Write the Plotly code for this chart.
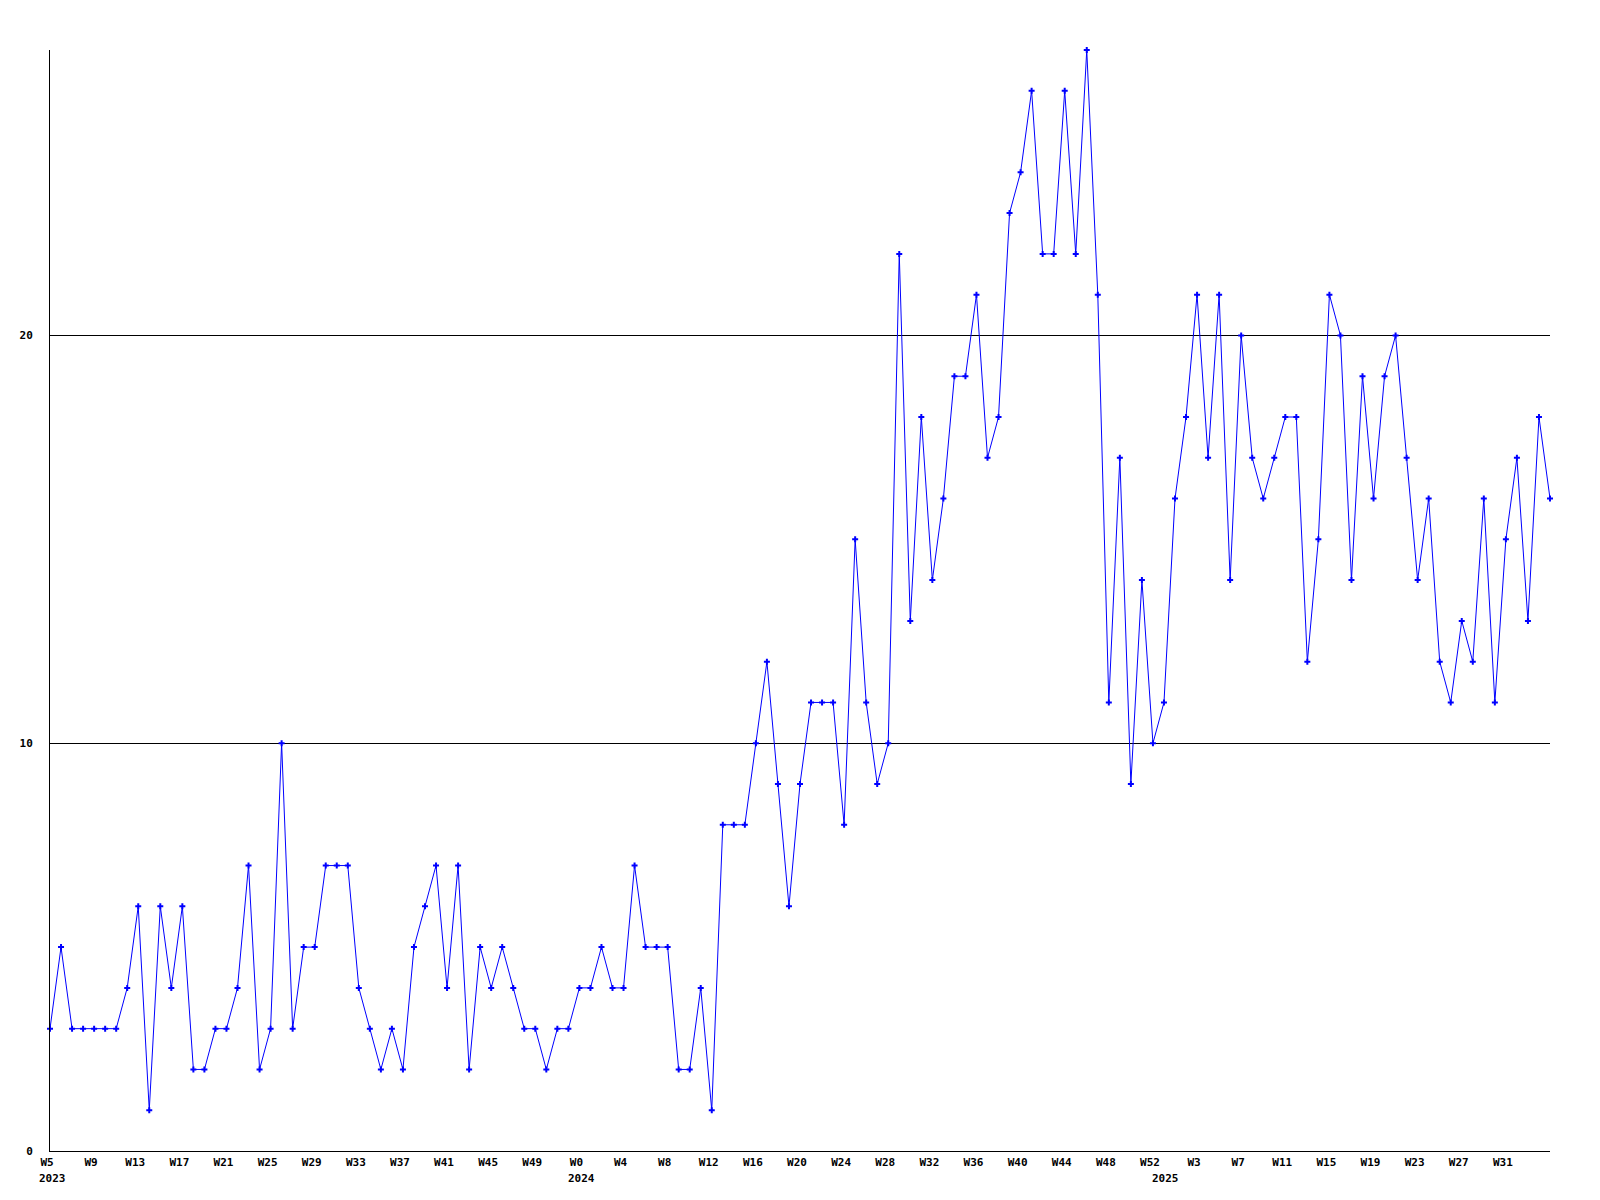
import plotly.graph_objects as go

# Weekly values
values_2023 = [3, 5, 3, 3, 3, 3, 3, 4, 6, 1, 6, 4, 6, 2, 2, 3, 3, 4, 7, 2, 3, 10, 3, 5,
               5, 7, 7, 7, 4, 3, 2, 3, 2, 5, 6, 7, 4, 7, 2, 5, 4, 5, 4, 3, 3, 2, 3, 3]
values_2024 = [4, 4, 5, 4, 4, 7, 5, 5, 5, 2, 2, 4, 1, 8, 8, 8, 10, 12, 9, 6, 9, 11, 11, 11,
               8, 15, 11, 9, 10, 22, 13, 18, 14, 16, 19, 19, 21, 17, 18, 23, 24, 26, 22, 22,
               26, 22, 27, 21, 11, 17, 9, 14, 10]
values_2025 = [11, 16, 18, 21, 17, 21, 14, 20, 17, 16, 17, 18, 18, 12, 15, 21, 20, 14, 19,
               16, 19, 20, 17, 14, 16, 12, 11, 13, 12, 16, 11, 15, 17, 13, 18, 16]

weeks_2023 = list(range(5, 53))
weeks_2024 = list(range(0, 53))
weeks_2025 = list(range(0, 36))

years = ["2023", "2024", "2025"]
y_tick_values = [0, 10, 20]

categories = ([f"2023-W{w}" for w in weeks_2023] +
              [f"2024-W{w}" for w in weeks_2024] +
              [f"2025-W{w}" for w in weeks_2025])
week_names = ([f"W{w}" for w in weeks_2023] +
              [f"W{w}" for w in weeks_2024] +
              [f"W{w}" for w in weeks_2025])
values = values_2023 + values_2024 + values_2025

tick_idx = list(range(0, len(categories) - 1, 4))
tickvals = [categories[i] for i in tick_idx]
ticktext = [week_names[i] for i in tick_idx]

font = dict(family="DejaVu Sans Mono", size=11, color="black", weight="bold")

fig = go.Figure()
fig.add_trace(go.Scatter(
    x=categories, y=values, mode="lines+markers",
    line=dict(color="#0000ff", width=1),
    marker=dict(symbol="cross", size=5, color="#0000ff", line=dict(width=0)),
    cliponaxis=False, showlegend=False,
))

year_first = [f"2023-W{weeks_2023[0]}", f"2024-W{weeks_2024[0]}", f"2025-W{weeks_2025[0]}"]
for yr, xcat in zip(years, year_first):
    fig.add_annotation(x=xcat, y=0, xref="x", yref="paper", text=yr,
                       showarrow=False, yanchor="top", xanchor="center",
                       yshift=-19, xshift=2, font=font)

fig.update_layout(
    width=1600, height=1200,
    margin=dict(l=42, r=58, t=42, b=57),
    paper_bgcolor="white", plot_bgcolor="white",
    font=font,
    xaxis=dict(type="category", range=[0, len(categories) - 1],
               tickmode="array", tickvals=tickvals, ticktext=ticktext,
               showgrid=False, showline=True, linecolor="black", linewidth=1,
               ticks="", tickfont=font, tickangle=0, ticklabelstandoff=1,
               ticklabelshift=-3),
    yaxis=dict(range=[0, 27], tickmode="array", tickvals=y_tick_values,
               showgrid=True, gridcolor="black", gridwidth=1, zeroline=False,
               showline=True, linecolor="black", linewidth=1,
               ticks="", tickfont=font, ticklabelstandoff=14),
)

fig.write_html("out.html")
